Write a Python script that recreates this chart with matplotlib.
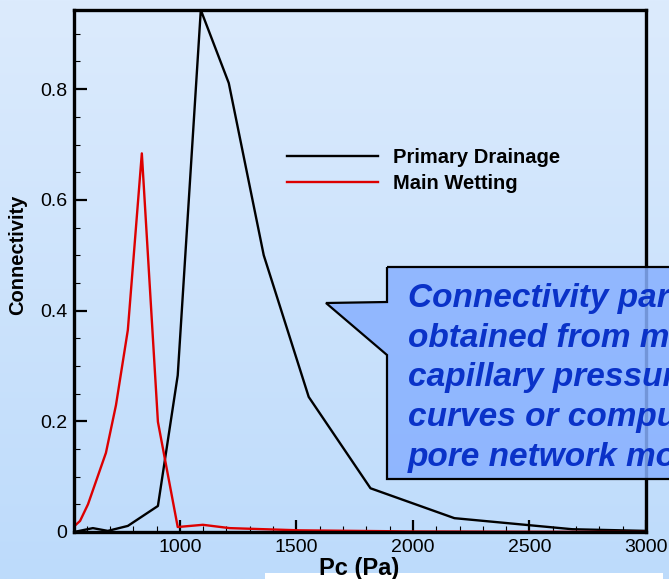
import numpy as np
import matplotlib
matplotlib.use('Agg')
import matplotlib.pyplot as plt
from matplotlib.patches import Polygon, Rectangle
from matplotlib.ticker import MultipleLocator, FuncFormatter

plt.rcParams['font.family'] = ['Liberation Sans', 'DejaVu Sans']

# connectivity vs capillary pressure
pd_x = [546, 627, 691, 777, 906, 991, 1090, 1210, 1360, 1553, 1818, 2178, 2684, 3000]
pd_y = [0.0, 0.007, 0.002, 0.011, 0.047, 0.283, 0.943, 0.811, 0.500, 0.244, 0.079, 0.025, 0.005, 0.002]
mw_x = [546, 572, 606, 683, 726, 777, 837, 906, 991, 1099, 1214, 1514, 2000, 3000]
mw_y = [0.01, 0.02, 0.05, 0.143, 0.229, 0.365, 0.684, 0.199, 0.009, 0.013, 0.007, 0.003, 0.001, 0.0]
labels = ['Primary Drainage', 'Main Wetting']
note = ('Connectivity parameters can be\nobtained from measured\ncapillary pressure\n'
        'curves or computed from\npore network models')

W, H = 669, 579
fig = plt.figure(figsize=(W / 100, H / 100), dpi=100)

def fp(x, y):
    # pixel position -> figure fraction
    return (x / W, 1 - y / H)

# soft blue gradient behind everything
bg = fig.add_axes([0, 0, 1, 1], zorder=-10)
top = np.array([220, 235, 253]) / 255
bot = np.array([189, 219, 251]) / 255
t = np.linspace(0, 1, 256)[:, None]
grad = (top * (1 - t) + bot * t)[:, None, :]
bg.imshow(grad, aspect='auto', extent=[0, 1, 0, 1])
bg.axis('off')

ax = fig.add_axes([74 / W, 1 - 532 / H, 572 / W, 522 / H])
ax.set_facecolor('none')
ax.plot(pd_x, pd_y, color='black', lw=1.7, label=labels[0])
ax.plot(mw_x, mw_y, color='#dd0000', lw=1.7, label=labels[1])

ax.set_xlim(546, 3000)
ax.set_ylim(0, 0.943)
for s in ax.spines.values():
    s.set_linewidth(2.4)
ax.xaxis.set_major_locator(MultipleLocator(500))
ax.xaxis.set_minor_locator(MultipleLocator(100))
ax.yaxis.set_major_locator(MultipleLocator(0.2))
ax.yaxis.set_minor_locator(MultipleLocator(0.05))
ax.xaxis.set_major_formatter(FuncFormatter(lambda v, p: '%g' % v))
ax.yaxis.set_major_formatter(FuncFormatter(lambda v, p: '%g' % round(v, 2)))
ax.tick_params(which='major', direction='in', length=9, width=1.6, labelsize=14, pad=5)
ax.tick_params(which='minor', direction='in', length=4.3, width=0.8)

fig.text(*fp(18, 255), 'Connectivity', rotation=90, ha='center', va='center',
         fontsize=14.5, fontweight='bold')
fig.text(*fp(359, 568), 'Pc (Pa)', ha='center', va='center',
         fontsize=17, fontweight='bold', zorder=6)

ax.legend(loc='upper left', bbox_to_anchor=fp(287, 148), bbox_transform=fig.transFigure,
          frameon=False, prop={'weight': 'bold', 'size': 14.5},
          handlelength=4.5, handletextpad=0.75, labelspacing=0.33, borderpad=0,
          borderaxespad=0)

# white strip along the bottom
fig.patches.append(Rectangle(fp(265, 579), (663 - 265) / W, 6 / H,
                             transform=fig.transFigure, facecolor='white',
                             edgecolor='none', zorder=4))

# callout box
pts = [fp(387, 267), fp(720, 267), fp(720, 479), fp(387, 479),
       fp(387, 355), fp(326, 303), fp(387, 302)]
fig.patches.append(Polygon(pts, closed=True, transform=fig.transFigure,
                           facecolor=(0.53, 0.69, 1.0), alpha=0.85,
                           edgecolor='none', zorder=5))
fig.patches.append(Polygon(pts, closed=True, transform=fig.transFigure,
                           facecolor='none', edgecolor='black', lw=1.6, zorder=5))
fig.text(*fp(408, 283), note, ha='left', va='top', fontsize=24,
         fontweight='bold', fontstyle='italic', color='#0a32c8',
         linespacing=1.36, zorder=6)

fig.savefig('out.png', dpi=100)
